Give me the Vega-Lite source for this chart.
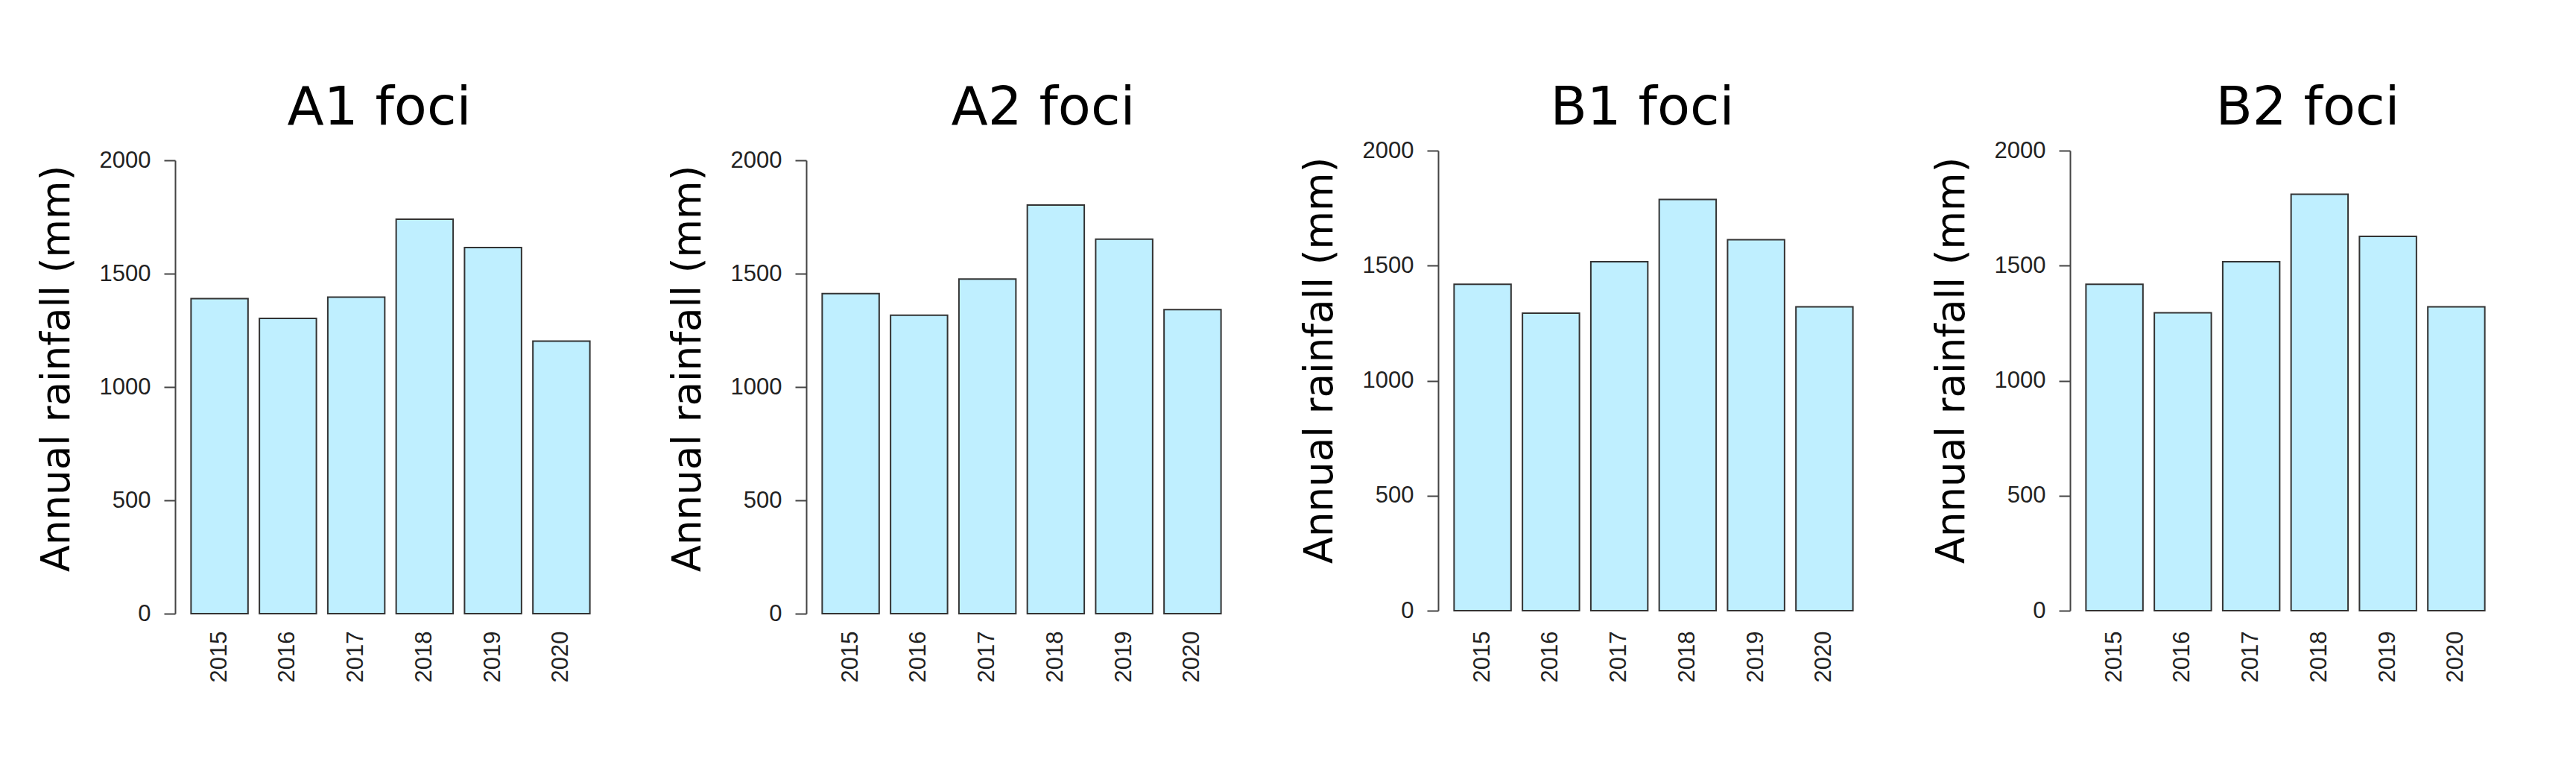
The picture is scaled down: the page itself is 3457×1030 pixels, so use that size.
{
  "$schema": "https://vega.github.io/schema/vega-lite/v6.json",
  "background": "white",
  "padding": {"left": 50, "top": 109, "right": 0, "bottom": 0},
  "config": {"view": {"stroke": null}, "font": "Liberation Sans"},
  "data": {"values": [
    {"site": "A1", "year": "2015", "rainfall": 1390},
    {"site": "A1", "year": "2016", "rainfall": 1303},
    {"site": "A1", "year": "2017", "rainfall": 1396},
    {"site": "A1", "year": "2018", "rainfall": 1740},
    {"site": "A1", "year": "2019", "rainfall": 1615},
    {"site": "A1", "year": "2020", "rainfall": 1202},
    {"site": "A2", "year": "2015", "rainfall": 1412},
    {"site": "A2", "year": "2016", "rainfall": 1317},
    {"site": "A2", "year": "2017", "rainfall": 1476},
    {"site": "A2", "year": "2018", "rainfall": 1803},
    {"site": "A2", "year": "2019", "rainfall": 1652},
    {"site": "A2", "year": "2020", "rainfall": 1341},
    {"site": "B1", "year": "2015", "rainfall": 1419},
    {"site": "B1", "year": "2016", "rainfall": 1293},
    {"site": "B1", "year": "2017", "rainfall": 1517},
    {"site": "B1", "year": "2018", "rainfall": 1788},
    {"site": "B1", "year": "2019", "rainfall": 1613},
    {"site": "B1", "year": "2020", "rainfall": 1321},
    {"site": "B2", "year": "2015", "rainfall": 1419},
    {"site": "B2", "year": "2016", "rainfall": 1295},
    {"site": "B2", "year": "2017", "rainfall": 1517},
    {"site": "B2", "year": "2018", "rainfall": 1810},
    {"site": "B2", "year": "2019", "rainfall": 1627},
    {"site": "B2", "year": "2020", "rainfall": 1321}
  ]},
  "spacing": 84,
  "hconcat": [
    {
      "title": {"text": "A1 foci", "font": "DejaVu Sans", "fontSize": 72, "fontWeight": "normal", "color": "black", "anchor": "middle", "frame": "group", "offset": -40, "dx": -15, "baseline": "alphabetic"},
      "width": 578, "height": 621,
      "transform": [{"filter": "datum.site === 'A1'"}],
      "mark": {"type": "bar", "fill": "#BFEFFF", "stroke": "#333333", "strokeWidth": 2},
      "encoding": {
        "x": {"field": "year", "type": "ordinal", "scale": {"paddingInner": 0.1667, "paddingOuter": 0.233},
              "axis": {"title": null, "labelAngle": -90, "domain": false, "ticks": false, "tickSize": 0, "labelPadding": 23, "labelFontSize": 31, "labelColor": "#222222"}},
        "y": {"field": "rainfall", "type": "quantitative", "scale": {"domain": [0, 2000], "nice": false, "range": [621, 13]},
              "axis": {"title": "Annual rainfall (mm)", "values": [0, 500, 1000, 1500, 2000], "format": "d", "grid": false, "domainColor": "#444444", "domainWidth": 2, "tickColor": "#444444", "tickWidth": 2, "tickSize": 15, "labelPadding": 18, "labelFontSize": 31, "labelColor": "#222222", "titleFont": "DejaVu Sans", "titleFontSize": 53, "titleFontWeight": "normal", "titleColor": "black", "titleX": -159, "titleY": 292, "titleBaseline": "middle", "titleAngle": -90, "titleAlign": "center"}}
      }
    },
    {
      "title": {"text": "A2 foci", "font": "DejaVu Sans", "fontSize": 72, "fontWeight": "normal", "color": "black", "anchor": "middle", "frame": "group", "offset": -40, "dx": 29, "baseline": "alphabetic"},
      "width": 578, "height": 621,
      "transform": [{"filter": "datum.site === 'A2'"}],
      "mark": {"type": "bar", "fill": "#BFEFFF", "stroke": "#333333", "strokeWidth": 2},
      "encoding": {
        "x": {"field": "year", "type": "ordinal", "scale": {"paddingInner": 0.1667, "paddingOuter": 0.233},
              "axis": {"title": null, "labelAngle": -90, "domain": false, "ticks": false, "tickSize": 0, "labelPadding": 23, "labelFontSize": 31, "labelColor": "#222222"}},
        "y": {"field": "rainfall", "type": "quantitative", "scale": {"domain": [0, 2000], "nice": false, "range": [621, 13]},
              "axis": {"title": "Annual rainfall (mm)", "values": [0, 500, 1000, 1500, 2000], "format": "d", "grid": false, "domainColor": "#444444", "domainWidth": 2, "tickColor": "#444444", "tickWidth": 2, "tickSize": 15, "labelPadding": 18, "labelFontSize": 31, "labelColor": "#222222", "titleFont": "DejaVu Sans", "titleFontSize": 53, "titleFontWeight": "normal", "titleColor": "black", "titleX": -159, "titleY": 292, "titleBaseline": "middle", "titleAngle": -90, "titleAlign": "center"}}
      }
    },
    {
      "title": {"text": "B1 foci", "font": "DejaVu Sans", "fontSize": 72, "fontWeight": "normal", "color": "black", "anchor": "middle", "frame": "group", "offset": -53, "dx": -15, "baseline": "alphabetic"},
      "width": 578, "height": 621,
      "transform": [{"filter": "datum.site === 'B1'"}],
      "mark": {"type": "bar", "fill": "#BFEFFF", "stroke": "#333333", "strokeWidth": 2},
      "encoding": {
        "x": {"field": "year", "type": "ordinal", "scale": {"paddingInner": 0.1667, "paddingOuter": 0.233},
              "axis": {"title": null, "labelAngle": -90, "domain": false, "ticks": false, "tickSize": 0, "labelPadding": 23, "labelFontSize": 31, "labelColor": "#222222"}},
        "y": {"field": "rainfall", "type": "quantitative", "scale": {"domain": [0, 2000], "nice": false, "range": [617, 0]},
              "axis": {"title": "Annual rainfall (mm)", "values": [0, 500, 1000, 1500, 2000], "format": "d", "grid": false, "domainColor": "#444444", "domainWidth": 2, "tickColor": "#444444", "tickWidth": 2, "tickSize": 15, "labelPadding": 18, "labelFontSize": 31, "labelColor": "#222222", "titleFont": "DejaVu Sans", "titleFontSize": 53, "titleFontWeight": "normal", "titleColor": "black", "titleX": -159, "titleY": 281, "titleBaseline": "middle", "titleAngle": -90, "titleAlign": "center"}}
      }
    },
    {
      "title": {"text": "B2 foci", "font": "DejaVu Sans", "fontSize": 72, "fontWeight": "normal", "color": "black", "anchor": "middle", "frame": "group", "offset": -53, "dx": 30, "baseline": "alphabetic"},
      "width": 578, "height": 621,
      "transform": [{"filter": "datum.site === 'B2'"}],
      "mark": {"type": "bar", "fill": "#BFEFFF", "stroke": "#333333", "strokeWidth": 2},
      "encoding": {
        "x": {"field": "year", "type": "ordinal", "scale": {"paddingInner": 0.1667, "paddingOuter": 0.233},
              "axis": {"title": null, "labelAngle": -90, "domain": false, "ticks": false, "tickSize": 0, "labelPadding": 23, "labelFontSize": 31, "labelColor": "#222222"}},
        "y": {"field": "rainfall", "type": "quantitative", "scale": {"domain": [0, 2000], "nice": false, "range": [617, 0]},
              "axis": {"title": "Annual rainfall (mm)", "values": [0, 500, 1000, 1500, 2000], "format": "d", "grid": false, "domainColor": "#444444", "domainWidth": 2, "tickColor": "#444444", "tickWidth": 2, "tickSize": 15, "labelPadding": 18, "labelFontSize": 31, "labelColor": "#222222", "titleFont": "DejaVu Sans", "titleFontSize": 53, "titleFontWeight": "normal", "titleColor": "black", "titleX": -159, "titleY": 281, "titleBaseline": "middle", "titleAngle": -90, "titleAlign": "center"}}
      }
    }
  ]
}
